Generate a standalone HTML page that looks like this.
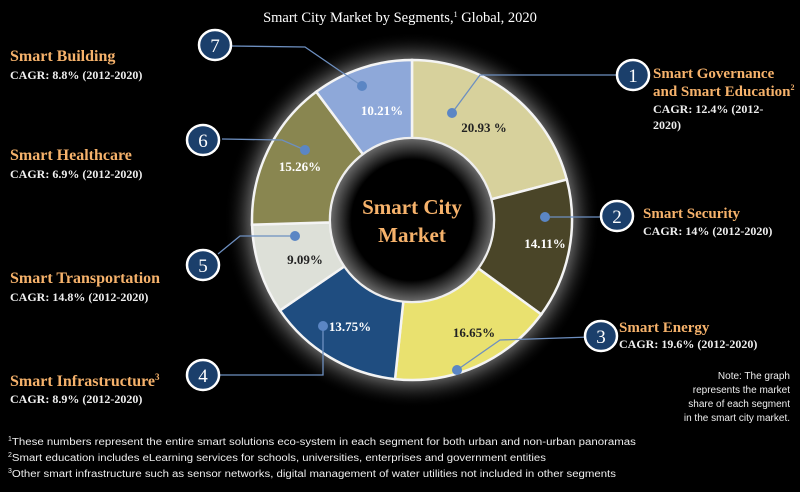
<!DOCTYPE html>
<html><head><meta charset="utf-8"><style>
body{margin:0;background:#000;width:800px;height:492px;overflow:hidden}
svg{display:block}
.s{font-family:"Liberation Serif",serif}
.a{font-family:"Liberation Sans",sans-serif}
</style></head><body>
<svg id="c" width="800" height="492" viewBox="0 0 800 492">
<defs>
<radialGradient id="g" cx="412" cy="220" r="188" gradientUnits="userSpaceOnUse">
<stop offset="0.78" stop-color="#fff" stop-opacity="0.7"/>
<stop offset="0.88" stop-color="#ccc" stop-opacity="0.3"/>
<stop offset="1" stop-color="#000" stop-opacity="0"/>
</radialGradient>
<radialGradient id="h" cx="412" cy="220" r="84" gradientUnits="userSpaceOnUse">
<stop offset="0.72" stop-color="#000"/>
<stop offset="1" stop-color="#777"/>
</radialGradient>
</defs>
<rect width="800" height="492" fill="#000"/>
<circle cx="412" cy="220" r="188" fill="url(#g)"/>
<g id="segs"></g>
<circle cx="412" cy="220" r="82" fill="url(#h)" stroke="#eee" stroke-width="2"/>
<text class="s" x="400" y="22" fill="#fff" font-size="14.5" text-anchor="middle">Smart City Market by Segments,<tspan font-size="8" dy="-5">1</tspan><tspan dy="5"> Global, 2020</tspan></text>
<g class="s" font-weight="bold" fill="#f6b26b" font-size="21" text-anchor="middle">
<text x="412" y="214">Smart City</text><text x="412" y="242">Market</text></g>
<g class="s" font-weight="bold" font-size="13" text-anchor="middle">
<text x="382" y="115" fill="#fff">10.21%</text>
<text x="484" y="132" fill="#222">20.93 %</text>
<text x="545" y="248" fill="#fff">14.11%</text>
<text x="474" y="337" fill="#222">16.65%</text>
<text x="350" y="331" fill="#fff">13.75%</text>
<text x="305" y="264" fill="#222">9.09%</text>
<text x="300" y="171" fill="#fff">15.26%</text>
</g>
<g stroke="#6d8fc0" stroke-width="1.3" fill="none">
<polyline points="230,46 305,47 362,86"/>
<polyline points="222,139 282,140 305,150"/>
<polyline points="295,236 240,236 218,254"/>
<polyline points="220,375 323,375 323,326"/>
<polyline points="457,370 500,340 590,337"/>
<polyline points="452,113 480,75 618,75"/>
<polyline points="545,217 600,217"/>
</g>
<g fill="#5b86c4">
<circle cx="362" cy="86" r="5"/><circle cx="305" cy="150" r="5"/><circle cx="295" cy="236" r="5"/>
<circle cx="323" cy="326" r="5"/><circle cx="457" cy="370" r="5"/><circle cx="452" cy="113" r="5"/><circle cx="545" cy="217" r="5"/>
</g>
<g id="nums"></g>
<g class="s">
<g font-weight="bold" font-size="16" fill="#f6b26b">
<text x="10" y="61">Smart Building</text>
<text x="10" y="160">Smart Healthcare</text>
<text x="10" y="283">Smart Transportation</text>
<text x="10" y="386">Smart Infrastructure<tspan font-size="9" dy="-6">3</tspan></text>
</g>
<g font-weight="bold" font-size="15" fill="#f6b26b">
<text x="653" y="78">Smart Governance</text>
<text x="653" y="96">and Smart Education<tspan font-size="8" dy="-6">2</tspan></text>
<text x="643" y="218">Smart Security</text>
<text x="619" y="332">Smart Energy</text>
</g>
<g font-weight="bold" font-size="12" fill="#eee">
<text x="10" y="79">CAGR: 8.8% (2012-2020)</text>
<text x="10" y="178">CAGR: 6.9% (2012-2020)</text>
<text x="10" y="301">CAGR: 14.8% (2012-2020)</text>
<text x="10" y="403">CAGR: 8.9% (2012-2020)</text>
<text x="653" y="113">CAGR: 12.4% (2012-</text>
<text x="653" y="129">2020)</text>
<text x="643" y="235">CAGR: 14% (2012-2020)</text>
<text x="619" y="348">CAGR: 19.6% (2012-2020)</text>
</g></g>
<g class="a" font-size="10" fill="#eee" text-anchor="end">
<text x="790" y="379">Note: The graph</text>
<text x="790" y="393">represents the market</text>
<text x="790" y="407">share of each segment</text>
<text x="790" y="421">in the smart city market.</text>
</g>
<g class="a" font-size="10" fill="#eee">
<text x="8" y="445"><tspan font-size="7" dy="-4">1</tspan><tspan dy="4" textLength="624" lengthAdjust="spacingAndGlyphs">These numbers represent the entire smart solutions eco-system in each segment for both urban and non-urban panoramas</tspan></text>
<text x="8" y="461"><tspan font-size="7" dy="-4">2</tspan><tspan dy="4" textLength="534" lengthAdjust="spacingAndGlyphs">Smart education includes eLearning services for schools, universities, enterprises and government entities</tspan></text>
<text x="8" y="477"><tspan font-size="7" dy="-4">3</tspan><tspan dy="4" textLength="604" lengthAdjust="spacingAndGlyphs">Other smart infrastructure such as sensor networks, digital management of water utilities not included in other segments</tspan></text>
</g>
</svg>
<script>
var cx=412,cy=220,R=160,r=82,ns="http://www.w3.org/2000/svg";
var d=[[20.93,"#d7d19c"],[14.11,"#4a4528"],[16.65,"#e9e16f"],[13.75,"#1f4d80"],[9.09,"#dde0d8"],[15.26,"#898650"],[10.21,"#8ea8d9"]];
var a=0,g=document.getElementById("segs");
function p(rad,ang){var t=(ang-90)*Math.PI/180;return (cx+rad*Math.cos(t)).toFixed(2)+","+(cy+rad*Math.sin(t)).toFixed(2);}
d.forEach(function(s){var b=a+s[0]*3.6;var l=(b-a)>180?1:0;
var e=document.createElementNS(ns,"path");
e.setAttribute("d","M"+p(R,a)+"A"+R+","+R+" 0 "+l+" 1 "+p(R,b)+"L"+p(r,b)+"A"+r+","+r+" 0 "+l+" 0 "+p(r,a)+"Z");
e.setAttribute("fill",s[1]);e.setAttribute("stroke","#f4f4f4");e.setAttribute("stroke-width","2.5");g.appendChild(e);a=b;});
var n=[[7,215,45],[6,203,140],[5,203,265],[4,203,375],[1,633,75],[2,617,216],[3,601,336]];
var ng=document.getElementById("nums");
n.forEach(function(q){var c=document.createElementNS(ns,"ellipse");c.setAttribute("cx",q[1]);c.setAttribute("cy",q[2]);c.setAttribute("rx",16);c.setAttribute("ry",15);c.setAttribute("fill","#1b3f6b");c.setAttribute("stroke","#fff");c.setAttribute("stroke-width","2.5");ng.appendChild(c);
var t=document.createElementNS(ns,"text");t.setAttribute("x",q[1]);t.setAttribute("y",q[2]+7);t.setAttribute("fill","#fff");t.setAttribute("font-size","19");t.setAttribute("text-anchor","middle");t.setAttribute("font-family","Liberation Serif, serif");t.textContent=q[0];ng.appendChild(t);});
</script>
</body></html>
